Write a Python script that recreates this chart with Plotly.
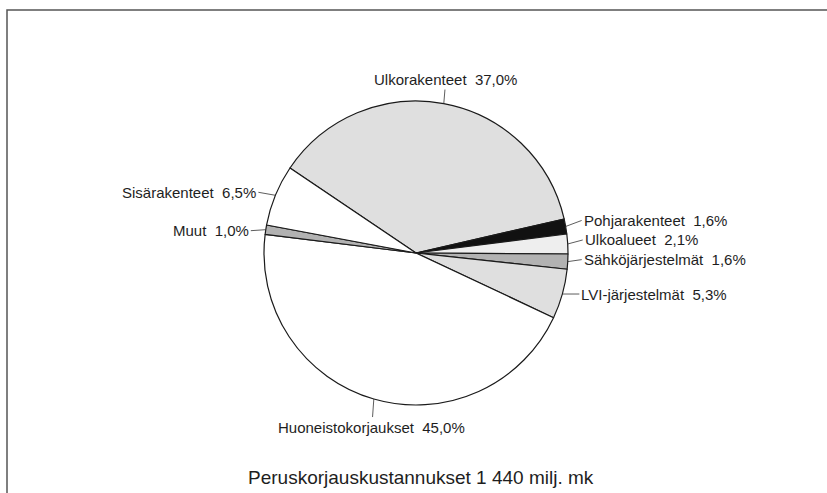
import math
import plotly.graph_objects as go

# Renovation cost breakdown (share of total, %)
labels = ["Ulkorakenteet", "Pohjarakenteet", "Ulkoalueet", "Sähköjärjestelmät",
          "LVI-järjestelmät", "Huoneistokorjaukset", "Muut", "Sisärakenteet"]
shares = [37.0, 1.6, 2.1, 1.6, 5.3, 45.0, 1.0, 6.5]
title_text = "Peruskorjauskustannukset 1 440 milj. mk"

W, H = 827, 493
CX, CY, R = 416, 253, 152          # pie centre and radius in pixels
START = 146.0                      # start angle of the first slice (deg, counter-clockwise from 3 o'clock)

FONT = "Liberation Sans Narrow, Arial Narrow, Liberation Sans, Arial, sans-serif"

# slice fills: (bg, fg, shape, size, solidity)
fills = [
    ("#f4f4f4", "#c4c4c4", ".", 2, 0.5),
    ("#111111", "#111111", "", 4, 0.5),
    ("#f6f6f6", "#e2e2e2", ".", 2, 0.4),
    ("#d2d2d2", "#8a8a8a", ".", 2, 0.5),
    ("#f4f4f4", "#c4c4c4", ".", 2, 0.5),
    ("#ffffff", "#ffffff", "", 4, 0.5),
    ("#d2d2d2", "#8a8a8a", ".", 2, 0.5),
    ("#ffffff", "#ffffff", "", 4, 0.5),
]

fig = go.Figure(go.Pie(
    labels=labels,
    values=shares,
    sort=False,
    direction="clockwise",
    rotation=90 - START,
    textinfo="none",
    hoverinfo="label+percent",
    marker=dict(
        colors=[f[0] for f in fills],
        line=dict(color="#1a1a1a", width=1.2),
        pattern=dict(
            shape=[f[2] for f in fills],
            fgcolor=[f[1] for f in fills],
            bgcolor=[f[0] for f in fills],
            size=[f[3] for f in fills],
            solidity=[f[4] for f in fills],
            fillmode="replace",
        ),
    ),
    domain=dict(x=[(CX - R) / W, (CX + R) / W], y=[1 - (CY + R) / H, 1 - (CY - R) / H]),
    showlegend=False,
))

# label text offsets from the slice edge (pixels) and anchors
label_layout = [
    (2, -24, "center"),
    (16, -6, "left"),
    (15, -4, "left"),
    (14, -2, "left"),
    (17, 0, "left"),
    (-2, 28, "center"),
    (-15, 1, "right"),
    (-17, -3, "right"),
]

total = sum(shares)
angle = START
annotations = []
for name, v, (dx, dy, anchor) in zip(labels, shares, label_layout):
    sweep = v / total * 360.0
    mid = math.radians(angle - sweep / 2)
    angle -= sweep
    tx = CX + R * math.cos(mid)
    ty = CY - R * math.sin(mid)
    pct = f"{v:.1f}".replace(".", ",")
    annotations.append(dict(
        x=tx / W, y=1 - ty / H, xref="paper", yref="paper",
        text=f"{name}  {pct}%",
        showarrow=True, arrowhead=0, arrowwidth=0.8, arrowcolor="#333333",
        ax=dx, ay=dy, standoff=0, startstandoff=0,
        xanchor=anchor, yanchor="middle",
        font=dict(family=FONT, size=15, color="#1e1e1e"),
    ))

annotations.append(dict(
    x=421 / W, y=1 - 477 / H, xref="paper", yref="paper",
    text=title_text, showarrow=False, xanchor="center", yanchor="middle",
    font=dict(family=FONT, size=19, color="#1e1e1e"),
))

fig.update_layout(
    width=W, height=H,
    margin=dict(l=0, r=0, t=0, b=0),
    paper_bgcolor="#ffffff",
    plot_bgcolor="#ffffff",
    annotations=annotations,
    shapes=[dict(type="rect", xref="paper", yref="paper",
                 x0=7 / W, x1=1.02, y0=-0.02, y1=1 - 10 / H,
                 line=dict(color="#555555", width=1.5))],
)

fig.write_html("out.html")
